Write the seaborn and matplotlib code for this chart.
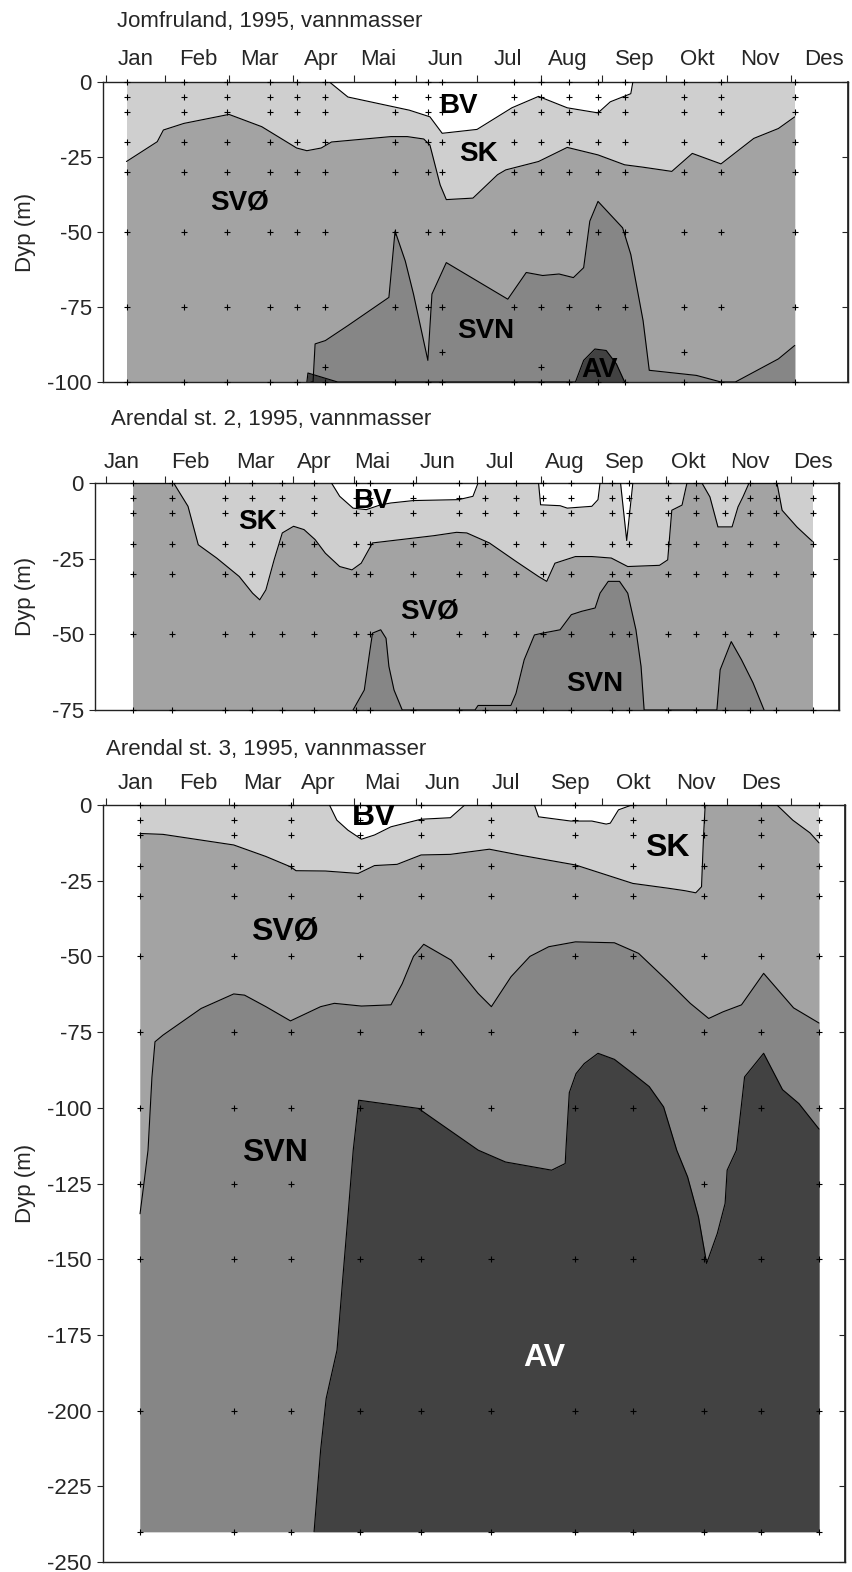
import numpy as np
import pandas as pd
import seaborn as sns
import matplotlib.pyplot as plt

sns.set_theme(style="ticks")
plt.rcParams['font.family'] = ['Liberation Sans', 'DejaVu Sans']
plt.rcParams['axes.unicode_minus'] = False

# water mass colours
C_BV = 'white'
C_SK = '#cfcfcf'
C_SVO = '#a3a3a3'
C_SVN = '#868686'
C_AV = '#424242'

# x is day of year, depths in metres (positive down)
MONTH_TICKS = [0, 29, 60, 91, 121, 151, 181, 212, 242, 273, 303, 334]
SAMPLE_DEPTHS_1 = [0, 5, 10, 20, 30, 50, 75, 100]
SAMPLE_DEPTHS_2 = [0, 5, 10, 20, 30, 50, 75]
SAMPLE_DEPTHS_3 = [0, 5, 10, 20, 30, 50, 75, 100, 150, 200, 240]

# ---- Jomfruland
P1_MONTHS = ['Jan', 'Feb', 'Mar', 'Apr', 'Mai', 'Jun', 'Jul', 'Aug', 'Sep', 'Okt', 'Nov', 'Des']
P1_MONTH_POS = [14.6, 44.9, 75, 104.9, 132.7, 165.9, 196, 225.4, 258, 288.3, 319, 350]
P1_DAYS = [10, 38, 59, 80, 93, 107, 141, 157, 164, 199, 212, 226, 240, 253, 282, 300, 336]
P1_EXTRA_DAYS = [107, 212, 164, 282]
P1_EXTRA_DEPTHS = [95, 95, 90, 90]
P1_BV_X = [109, 118, 148, 158, 164, 181, 198, 211, 225, 240, 246, 256, 257]
P1_BV_D = [0, 5, 9.4, 11.6, 17.1, 15.8, 8.6, 4.8, 8.6, 10.3, 6.6, 3.9, 0]
P1_SVO_X = [10, 25, 28, 38, 60, 76, 93, 98, 105, 110, 139, 147, 155, 158, 163, 166, 179,
            191, 195, 211, 225, 240, 253, 262, 276, 286, 300, 316, 328, 336]
P1_SVO_D = [26.5, 19.9, 16, 13.8, 10.8, 14.9, 22, 22.9, 22, 20, 18.2, 18.2, 19, 21, 34.3, 39.2, 38.7,
            30.9, 29.3, 26.5, 21.8, 24.3, 27.6, 28.4, 29.8, 23.8, 27.3, 18.8, 15.5, 11.6]
P1_SVN_X = [100, 101, 102, 107, 118, 138, 141, 146, 150, 157, 159, 166, 196, 205, 213, 221, 228,
            233, 236, 240, 252, 256, 262, 265, 288, 300, 307, 328, 336]
P1_SVN_D = [100, 100, 87.3, 86.2, 81.2, 71.8, 49.7, 59.7, 70.7, 92.8, 70.7, 60.2, 72.4, 63.5, 64.5, 64, 65.2,
            61.9, 46.4, 39.8, 48.6, 57.5, 79.6, 96.1, 97.8, 100, 100, 92.3, 87.8]
P1_AV_X = [98, 98.5, 113, 229, 233, 238.5, 244, 249, 253]
P1_AV_D = [100, 97, 100, 100, 92.8, 89, 89.5, 94, 100]

# ---- Arendal st. 2
P2_MONTHS = ['Jan', 'Feb', 'Mar', 'Apr', 'Mai', 'Jun', 'Jul', 'Aug', 'Sep', 'Okt', 'Nov', 'Des']
P2_MONTH_POS = [7.8, 41, 73, 101.5, 130, 161.7, 192, 224, 253, 284, 314, 345]
P2_DAYS = [13, 32, 58, 71, 86, 101.5, 122, 129, 150, 172, 185, 200, 213, 227, 247, 255,
           274, 288, 302, 314, 327, 345]
P2_BV_X = [110, 114, 120.5, 127, 134, 139, 150, 172, 179, 181.5, 211, 212, 221.5, 225, 237, 240,
           241, 251, 254, 257]
P2_BV_D = [0, 4.4, 8.3, 8.8, 7.2, 6.6, 5.8, 5.5, 4.4, 0, 0, 7.2, 7.5, 8.3, 7.7, 5.5,
           0, 0, 19, 0]
P2_SVO_X = [13, 33, 40, 45, 54, 65, 71.5, 75, 78, 82, 86, 91.5, 96.6, 102, 107, 114, 120, 124.5,
            130, 150, 160, 171, 176, 187, 200, 211, 215, 219, 229, 237, 246.5, 254.5, 270, 274,
            276, 281, 283.4, 290.7, 294.6, 298.5, 305.4, 308.3, 310.7, 313.7, 327.3, 329.8, 337, 344.6]
P2_SVO_D = [0, 0, 7.7, 20.4, 24.8, 30.9, 36.4, 38.6, 35.3, 25.4, 16.5, 14.3, 15.4, 18.7, 23.2, 27.6, 28.7, 26.5,
            19.8, 18.2, 17.4, 16.3, 16.5, 19.8, 25.9, 30.9, 32.5, 26.5, 24.3, 24.3, 24.8, 27.6, 27.2, 25.4,
            9, 7.3, 0, 0, 4.6, 14.5, 14.5, 7.9, 4.6, 0, 0, 9, 14.5, 19.3]
P2_SVN_X = [120.5, 126, 128.6, 130, 134, 136.6, 138, 140.5, 144.5, 180, 181.5, 197.5, 200, 204, 209,
            213, 221.5, 227, 232, 238.6, 241, 245, 250.5, 254.5, 258.5, 261, 262.5, 298, 299.6,
            305, 310, 315.6, 321]
P2_SVN_D = [75, 68.4, 56, 49.6, 48.5, 51.3, 60.6, 68.4, 75, 75, 73.5, 73.5, 69.5, 58.4, 50.2,
            49.6, 48.5, 43.5, 42.4, 41.3, 36.4, 32.5, 32.5, 36.4, 48.5, 60.6, 75, 75, 61.7,
            52.4, 58.4, 66, 75]

# ---- Arendal st. 3
P3_MONTHS = ['Jan', 'Feb', 'Mar', 'Apr', 'Mai', 'Jun', 'Jul', 'Sep', 'Okt', 'Nov', 'Des']
P3_MONTH_POS = [14.6, 45, 76.3, 103.4, 134.6, 164.4, 195, 226.7, 257, 287.7, 319.5]
P3_DAYS = [16.6, 62.3, 90, 124, 153.7, 188, 229, 257, 291.7, 319.5, 347.8]
P3_EXTRA_DAYS = [16.6, 62.3, 90, 291.7, 347.8]
P3_EXTRA_DEPTHS = [125, 125, 125, 125, 125]
P3_BV_X = [109, 112.6, 118, 124.6, 131, 139, 153.7, 168, 175, 209, 211, 226.7, 237, 244, 246, 250, 256.5]
P3_BV_D = [0, 5, 8.3, 11.3, 9.9, 7.2, 4.7, 4.2, 0, 0, 3.9, 5.3, 5.3, 6.3, 6, 1.6, 0]
P3_SVO_X = [16.6, 27.8, 62.3, 78, 90, 92.7, 107, 123, 131, 142, 153.7, 168, 187, 201.5, 229, 257,
            274.4, 282.4, 287.7, 290.5, 291.5, 292.3, 327.3, 335, 343.4, 347.8]
P3_SVO_D = [9.4, 9.7, 13.2, 17, 20.4, 21.7, 21.8, 22.6, 20, 19.6, 16.5, 16.3, 14.6, 16.5, 19.8, 25.9,
            27.5, 28.3, 29, 27, 10, 0, 0, 5, 9.2, 12.5]
P3_SVN_X = [16.6, 18.5, 20.5, 22.4, 23.9, 27.8, 46.4, 62.3, 67.6, 78, 90, 104.7, 111.4, 124.6, 139,
            144.5, 150, 155, 168.3, 181.5, 188, 197.6, 206.8, 216, 229, 248, 259.8, 274.4, 285, 294,
            301, 310, 320.8, 335.4, 347.8]
P3_SVN_D = [135, 125, 114, 90, 78.2, 76, 67.2, 62.4, 62.8, 66.6, 71.3, 66.6, 65.5, 66.4, 66,
            59, 50, 46, 51.2, 62.2, 66.6, 56.7, 50, 46.8, 45.2, 45.5, 49, 58.4, 65.5, 70.5,
            68.3, 66, 55.6, 67, 72]
P3_AV_X = [101.5, 104.7, 107.4, 112.7, 115.3, 118, 120.6, 123.3, 152.4, 160.4, 181.6, 194.9, 217.4,
           224, 224.5, 226, 229.3, 233.3, 240, 248, 257, 265, 272, 278.4, 283.7, 289, 293, 298.2,
           302, 303, 307.5, 311.5, 320.8, 330, 338, 347.8]
P3_AV_D = [240, 213, 196, 180, 158, 136, 114, 97.5, 100.2, 104, 114, 117.9, 120.6,
           118.4, 112, 95, 88.7, 85.4, 82, 84, 88.7, 93, 99.7, 114, 122.8, 136, 151.4, 141.5,
           131.6, 120.6, 114, 89.8, 82, 94, 98.6, 107]

FIG_W, FIG_H = 852, 1572

panels = [
    dict(title='Jomfruland, 1995, vannmasser', title_xy=(117, 21), box=(103, 82, 848, 382),
         bottom=100, months=P1_MONTHS, month_pos=P1_MONTH_POS, days=P1_DAYS,
         depths=SAMPLE_DEPTHS_1, extra=(P1_EXTRA_DAYS, P1_EXTRA_DEPTHS),
         bv=(P1_BV_X, P1_BV_D), svo=(P1_SVO_X, P1_SVO_D), svn=(P1_SVN_X, P1_SVN_D),
         av=(P1_AV_X, P1_AV_D), fs=20, month_off=12,
         labels=[('BV', 172, 8, 'black'), ('SK', 181.5, 24, 'black'), ('SVØ', 65, 40, 'black'),
                 ('SVN', 185, 83, 'black'), ('AV', 241, 96, 'black')]),
    dict(title='Arendal st. 2, 1995, vannmasser', title_xy=(111, 419), box=(95, 483, 839, 710),
         bottom=75, months=P2_MONTHS, month_pos=P2_MONTH_POS, days=P2_DAYS,
         depths=SAMPLE_DEPTHS_2, extra=([], []),
         bv=(P2_BV_X, P2_BV_D), svo=(P2_SVO_X, P2_SVO_D), svn=(P2_SVN_X, P2_SVN_D),
         av=None, fs=20, month_off=11,
         labels=[('BV', 130, 6, 'black'), ('SK', 74, 13, 'black'), ('SVØ', 158, 42.6, 'black'),
                 ('SVN', 238.5, 66.3, 'black')]),
    dict(title='Arendal st. 3, 1995, vannmasser', title_xy=(106, 749), box=(103, 805, 845, 1562),
         bottom=250, months=P3_MONTHS, month_pos=P3_MONTH_POS, days=P3_DAYS,
         depths=SAMPLE_DEPTHS_3, extra=(P3_EXTRA_DAYS, P3_EXTRA_DEPTHS),
         bv=(P3_BV_X, P3_BV_D), svo=(P3_SVO_X, P3_SVO_D), svn=(P3_SVN_X, P3_SVN_D),
         av=(P3_AV_X, P3_AV_D), fs=23, month_off=11.5,
         labels=[('BV', 131, 4, 'black'), ('SK', 274, 14.2, 'black'), ('SVØ', 87, 42, 'black'),
                 ('SVN', 82.4, 115, 'black'), ('AV', 213.7, 182.5, 'white')]),
]

fig = plt.figure(figsize=(FIG_W / 100, FIG_H / 100), dpi=100)


def px2day(x):
    return (x - 106) / 2.05


for p in panels:
    x0, y0, x1, y1 = p['box']
    ax = fig.add_axes([x0 / FIG_W, 1 - y1 / FIG_H, (x1 - x0) / FIG_W, (y1 - y0) / FIG_H])
    bot = p['bottom']
    data_bot = min(bot, max(p['depths']))
    first, last = p['days'][0], p['days'][-1]

    # layered fills: paint the upper water mass, then deeper ones over it
    ax.fill_between([first, last], 0, -data_bot, color=C_SK, lw=0, zorder=1)
    bx, bd = p['bv']
    ax.fill_between(bx, 0, -np.array(bd), color=C_BV, lw=0, zorder=2)
    ax.plot(bx, -np.array(bd), color='black', lw=0.8, zorder=3)
    sx, sd = p['svo']
    ax.fill_between(sx, -np.array(sd), -data_bot, color=C_SVO, lw=0, zorder=2)
    ax.plot(sx, -np.array(sd), color='black', lw=0.8, zorder=3)
    nx, nd = p['svn']
    ax.fill_between(nx, -np.array(nd), -data_bot, color=C_SVN, lw=0, zorder=2)
    ax.plot(nx, -np.array(nd), color='black', lw=0.8, zorder=3)
    if p['av'] is not None:
        axx, avd = p['av']
        ax.fill_between(axx, -np.array(avd), -data_bot, color=C_AV, lw=0, zorder=2)
        ax.plot(axx, -np.array(avd), color='black', lw=0.8, zorder=3)

    # sampling points
    pts = pd.DataFrame([(d, -z) for d in p['days'] for z in p['depths']] +
                       [(d, -z) for d, z in zip(*p['extra'])], columns=['day', 'depth'])
    sns.scatterplot(data=pts, x='day', y='depth', marker='+', color='black', s=22,
                    linewidth=0.8, ax=ax, legend=False, zorder=5, clip_on=False)

    for txt, d, z, col in p['labels']:
        ax.text(d, -z, txt, ha='center', va='center', fontsize=p['fs'], fontweight='bold',
                color=col, zorder=6, clip_on=True)

    # month names above the top axis
    for name, pos in zip(p['months'], p['month_pos']):
        ax.annotate(name, xy=(pos, 1), xycoords=('data', 'axes fraction'),
                    xytext=(0, p['month_off']), textcoords='offset points',
                    ha='center', va='baseline', fontsize=16)

    ax.set_xlim(px2day(x0), px2day(x1))
    ax.set_ylim(-bot, 0)
    ax.set_xlabel('')
    ax.set_ylabel('')
    ax.set_yticks(np.arange(0, -bot - 1, -25))
    ax.xaxis.set_ticks_position('top')
    ax.set_xticks(MONTH_TICKS, labels=[''] * len(MONTH_TICKS))
    ax.tick_params(axis='x', which='major', direction='out', length=5, width=0.8,
                   top=True, bottom=False, labeltop=False, labelbottom=False)
    ax.tick_params(axis='y', direction='out', length=4, width=0.8, pad=4, labelsize=16)
    for sp in ax.spines.values():
        sp.set_visible(True)
        sp.set_linewidth(1)
        sp.set_color('#222222')
    sec = ax.secondary_yaxis('right')
    sec.set_yticks(np.arange(0, -bot - 1, -25))
    sec.tick_params(direction='in', length=4, width=0.8, labelright=False)

    fig.text(p['title_xy'][0] / FIG_W, 1 - p['title_xy'][1] / FIG_H, p['title'],
             ha='left', va='center', fontsize=16)
    fig.text(25 / FIG_W, 1 - (y0 + y1) / 2 / FIG_H, 'Dyp (m)', rotation=90,
             ha='center', va='center', fontsize=16)

fig.savefig('out.png', dpi=100)
